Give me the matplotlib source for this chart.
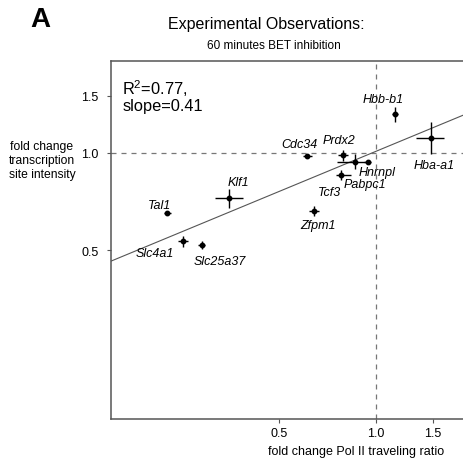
import matplotlib
matplotlib.use("Agg")
import matplotlib.pyplot as plt
from matplotlib.ticker import FixedLocator, FixedFormatter, NullLocator
import numpy as np

plt.rcParams['font.family'] = ['Liberation Sans', 'DejaVu Sans']
plt.rcParams['mathtext.fontset'] = 'custom'
plt.rcParams['mathtext.rm'] = 'Liberation Sans'
plt.rcParams['mathtext.it'] = 'Liberation Sans:italic'

# ---- data ----
genes = ['Hbb-b1', 'Hba-a1', 'Cdc34', 'Prdx2', 'Pabpc1', 'Hnrnpl', 'Tcf3',
         'Klf1', 'Tal1', 'Zfpm1', 'Slc4a1', 'Slc25a37']
x_val = [1.146, 1.48, 0.611, 0.791, 0.860, 0.942, 0.776, 0.349, 0.224, 0.641, 0.250, 0.287]
x_lo = [1.119, 1.332, 0.593, 0.762, 0.757, 0.920, 0.749, 0.315, 0.218, 0.619, 0.242, 0.280]
x_hi = [1.173, 1.628, 0.632, 0.818, 0.928, 0.965, 0.836, 0.386, 0.230, 0.666, 0.260, 0.294]
y_val = [1.316, 1.107, 0.979, 0.986, 0.938, 0.938, 0.856, 0.725, 0.651, 0.660, 0.536, 0.520]
y_lo = [1.24, 0.991, 0.963, 0.941, 0.891, 0.925, 0.826, 0.674, 0.643, 0.637, 0.511, 0.505]
y_hi = [1.38, 1.24, 0.994, 1.0215, 0.991, 0.952, 0.886, 0.773, 0.659, 0.684, 0.555, 0.536]
fit_slope = 0.41
fit_scale = 1.01
r2_text = "R$^2$=0.77,\nslope=0.41"
ticks = [0.5, 1.0, 1.5]
tick_labels = ['0.5', '1.0', '1.5']

# label offsets in pixels (dx right, dy down)
label_offsets = {
    'Hbb-b1': (-12, -15), 'Hba-a1': (3, 27), 'Cdc34': (-8, -12),
    'Prdx2': (-4, -15), 'Pabpc1': (10, 22), 'Hnrnpl': (9, 10),
    'Tcf3': (-11, 17), 'Klf1': (9, -16), 'Tal1': (-8, -8),
    'Zfpm1': (4, 14), 'Slc4a1': (-28, 12), 'Slc25a37': (18, 16),
}

W, H = 464, 460
fig = plt.figure(figsize=(W / 100, H / 100), dpi=100)
ax = fig.add_axes([111 / W, 1 - 420 / H, (475 - 111) / W, (420 - 62) / H])
ax.set_xscale('log')
ax.set_yscale('log')
xlim = (0.1496, 2.033)
ylim = (0.1513, 1.916)
ax.set_xlim(xlim)
ax.set_ylim(ylim)

spine_c = '#555555'
for s in ax.spines.values():
    s.set_color(spine_c)
    s.set_linewidth(1.1)

# reference lines
ax.axvline(1.0, color='#777777', lw=0.9, ls=(0, (4, 4)), zorder=1)
ax.axhline(1.0, color='#777777', lw=0.9, ls=(0, (4, 4)), zorder=1)

# fit line
xf = np.geomspace(xlim[0], xlim[1], 50)
ax.plot(xf, fit_scale * xf ** fit_slope, color='#555555', lw=0.8, zorder=2)

xv = np.array(x_val); yv = np.array(y_val)
xerr = np.vstack([xv - np.array(x_lo), np.array(x_hi) - xv])
yerr = np.vstack([yv - np.array(y_lo), np.array(y_hi) - yv])
ax.errorbar(xv, yv, xerr=xerr, yerr=yerr, fmt='o', color='black', ms=3.2,
            elinewidth=1.0, capsize=0, zorder=3)

for g, xx, yy in zip(genes, x_val, y_val):
    dx, dy = label_offsets[g]
    ax.annotate(g, (xx, yy), xytext=(dx, -dy), textcoords='offset pixels',
                ha='center', va='center', fontsize=9, style='italic')

ax.text(0.031, 0.955, r2_text, transform=ax.transAxes,
        fontsize=11.8, ha='left', va='top', linespacing=1.0)

ax.xaxis.set_major_locator(FixedLocator(ticks))
ax.xaxis.set_major_formatter(FixedFormatter(tick_labels))
ax.yaxis.set_major_locator(FixedLocator(ticks))
ax.yaxis.set_major_formatter(FixedFormatter(tick_labels))
ax.xaxis.set_minor_locator(NullLocator())
ax.yaxis.set_minor_locator(NullLocator())
ax.tick_params(axis='both', which='major', direction='out', length=3,
               width=0.8, color=spine_c, labelsize=9, pad=3)
ax.tick_params(axis='y', pad=6)

fig.text(356 / W, 1 - 452 / H, 'fold change Pol II traveling ratio',
         ha='center', va='center', fontsize=9)
fig.text(42 / W, 1 - 161 / H, 'fold change\ntranscription\nsite intensity',
         ha='center', va='center', fontsize=8.7, linespacing=1.2)
fig.text(266 / W, 1 - 24 / H, 'Experimental Observations:',
         ha='center', va='center', fontsize=11.5)
fig.text(274 / W, 1 - 46 / H, '60 minutes BET inhibition',
         ha='center', va='center', fontsize=8.5)
fig.text(30 / W, 1 - 20 / H, 'A', ha='left', va='center',
         fontsize=20, fontweight='bold')

fig.savefig('out.png', dpi=100)
